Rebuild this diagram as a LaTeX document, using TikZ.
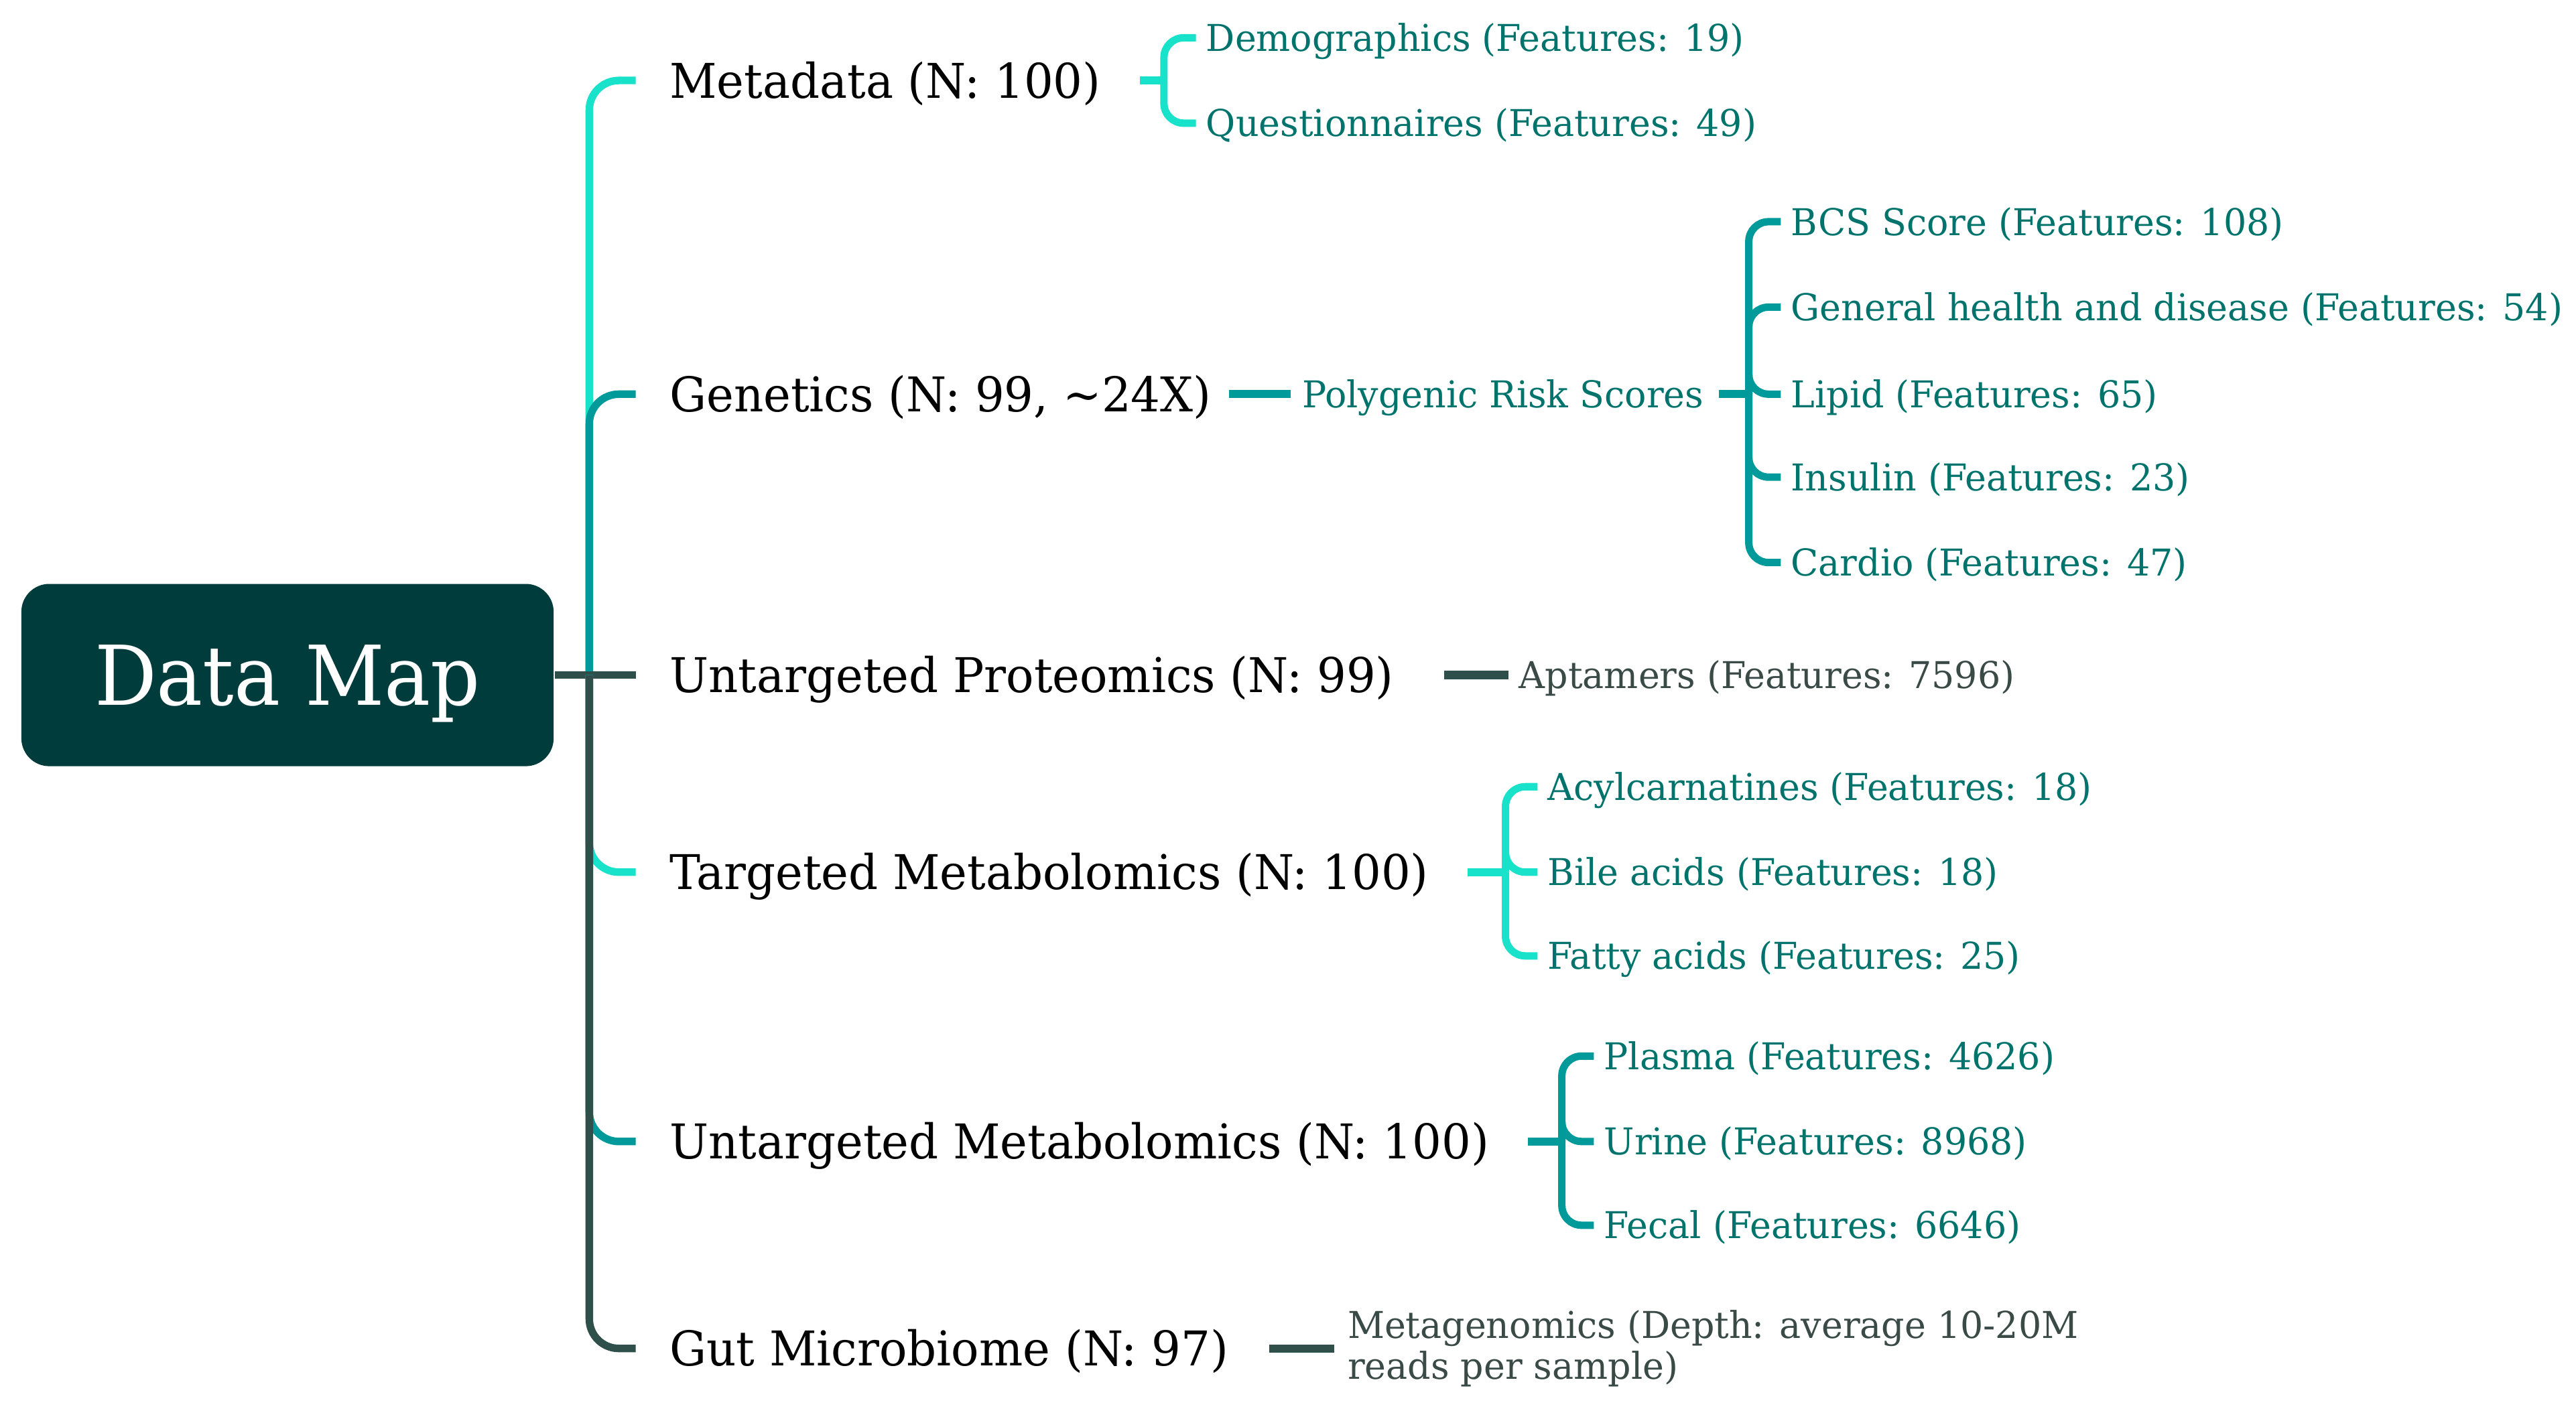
\documentclass[tikz,border=0pt]{standalone}
\usepackage{fontspec}
\setmainfont{DejaVu Serif Condensed}
\newfontfamily\rootfont[FakeStretch=1.045]{DejaVu Serif Condensed}
\newfontfamily\topicfont[FakeStretch=1.07]{DejaVu Serif Condensed}
\newfontfamily\leaffont[FakeStretch=1.085]{DejaVu Serif Condensed}
\usepackage{xcolor}
\usetikzlibrary{calc,positioning}
\definecolor{mapcyan}{RGB}{24,226,202}
\definecolor{mapteal}{RGB}{0,154,154}
\definecolor{mapdark}{RGB}{47,79,74}
\definecolor{rootfill}{RGB}{1,60,60}
\definecolor{leafteal}{RGB}{0,116,108}
\definecolor{leafdark}{RGB}{58,74,71}
\tikzset{
    rootbox/.style={fill=rootfill, rounded corners=1.7mm, text=white,
        minimum width=32.4mm, minimum height=11.1mm, inner sep=0pt,
        text height=10.44pt, text depth=0pt,
        font=\rootfont\fontsize{14.3}{16}\selectfont},
    topic/.style={anchor=west, inner sep=0pt, text height=6.05pt, text depth=0pt,
        font=\topicfont\fontsize{8.3}{10}\selectfont},
    leaf/.style={anchor=west, inner sep=0pt, text height=4.67pt, text depth=0pt,
        text=leafteal, font=\leaffont\fontsize{6.4}{7.1}\selectfont},
    note/.style={anchor=west, inner sep=0pt, align=left, text=leafdark,
        font=\leaffont\fontsize{6.4}{7.1}\selectfont},
    branch/.style={line width=0.46mm, rounded corners=1.8mm},
    stub/.style={line width=0.5mm},
    twig/.style={line width=0.45mm, rounded corners=1.2mm},
}

\begin{document}
\begin{tikzpicture}[x=0.1mm,y=-0.1mm]
    \useasboundingbox (0,0) rectangle (1568,863.6);

    % Draw root node.
    \node[rootbox] (root) at (175,411) {Data Map};

    % Draw first level topics.
    \node[topic] (meta) at (407,49) {Metadata (N: 100)};
    \node[topic] (gene) at (407,240) {Genetics (N: 99, \textasciitilde 24X)};
    \node[topic] (prot) at (407,411) {Untargeted Proteomics (N: 99)};
    \node[topic] (tmet) at (407,531) {Targeted Metabolomics (N: 100)};
    \node[topic] (umet) at (407,695) {Untargeted Metabolomics (N: 100)};
    \node[topic] (gut) at (407,821) {Gut Microbiome (N: 97)};

    % Draw branches from root.
    \coordinate (hub) at ([xshift=2.1mm]root.east);
    \draw[branch,mapcyan] (hub) |- ([xshift=-2mm]meta.west);
    \draw[branch,mapteal] (hub) |- ([xshift=-2mm]gene.west);
    \draw[branch,mapdark] (root.east) -- ([xshift=-2mm]prot.west);
    \draw[branch,mapcyan] (hub) |- ([xshift=-2mm]tmet.west);
    \draw[branch,mapteal] (hub) |- ([xshift=-2mm]umet.west);
    \draw[branch,mapdark] (hub) |- ([xshift=-2mm]gut.west);

    % Metadata leaves.
    \foreach \n/\y/\t in {demo/23/Demographics (Features: 19),
                          quest/75/Questionnaires (Features: 49)}
        \node[leaf] (\n) at (733.5,\y) {\t};
    \coordinate (metaj) at ([xshift=-2.5mm]demo.west |- meta.west);
    \draw[stub,mapcyan] ([xshift=2.3mm]meta.east) -- (metaj);
    \foreach \n in {demo,quest}
        \draw[twig,mapcyan] (metaj) |- ([xshift=-0.55mm]\n.west);

    % Genetics leaves.
    \node[leaf] (prs) at (792,240) {Polygenic Risk Scores};
    \draw[stub,mapteal] ([xshift=1mm]gene.east) -- ([xshift=-0.65mm]prs.west);
    \foreach \n/\y/\t in {bcs/135/BCS Score (Features: 108),
                          ghd/187/General health and disease (Features: 54),
                          lipid/240/Lipid (Features: 65),
                          insulin/290.5/Insulin (Features: 23),
                          cardio/342.5/Cardio (Features: 47)}
        \node[leaf] (\n) at (1089.5,\y) {\t};
    \coordinate (prsj) at ([xshift=-2.5mm]lipid.west |- prs.west);
    \draw[stub,mapteal] ([xshift=0.85mm]prs.east) -- (prsj);
    \foreach \n in {bcs,ghd,lipid,insulin,cardio}
        \draw[twig,mapteal] (prsj) |- ([xshift=-0.55mm]\n.west);

    % Proteomics leaf.
    \node[leaf,text=leafdark] (apt) at (924,411) {Aptamers (Features: 7596)};
    \draw[stub,mapdark] ([xshift=3mm]prot.east) -- ([xshift=-0.6mm]apt.west);

    % Targeted metabolomics leaves.
    \foreach \n/\y/\t in {acyl/479/Acylcarnatines (Features: 18),
                          bile/531/Bile acids (Features: 18),
                          fatty/582/Fatty acids (Features: 25)}
        \node[leaf] (\n) at (941.4,\y) {\t};
    \coordinate (tmetj) at ([xshift=-2.5mm]bile.west |- tmet.west);
    \draw[stub,mapcyan] ([xshift=2.3mm]tmet.east) -- (tmetj);
    \foreach \n in {acyl,bile,fatty}
        \draw[twig,mapcyan] (tmetj) |- ([xshift=-0.55mm]\n.west);

    % Untargeted metabolomics leaves.
    \foreach \n/\y/\t in {plasma/643/Plasma (Features: 4626),
                          urine/695/Urine (Features: 8968),
                          fecal/746/Fecal (Features: 6646)}
        \node[leaf] (\n) at (975.7,\y) {\t};
    \coordinate (umetj) at ([xshift=-2.5mm]urine.west |- umet.west);
    \draw[stub,mapteal] ([xshift=2.3mm]umet.east) -- (umetj);
    \foreach \n in {plasma,urine,fecal}
        \draw[twig,mapteal] (umetj) |- ([xshift=-0.55mm]\n.west);

    % Gut microbiome leaf.
    \node[note] (metag) at (819.6,821) {Metagenomics (Depth: average 10-20M\\reads per sample)};
    \draw[stub,mapdark] ([xshift=2.4mm]gut.east) -- ([xshift=-0.75mm]metag.west);
\end{tikzpicture}
\end{document}
